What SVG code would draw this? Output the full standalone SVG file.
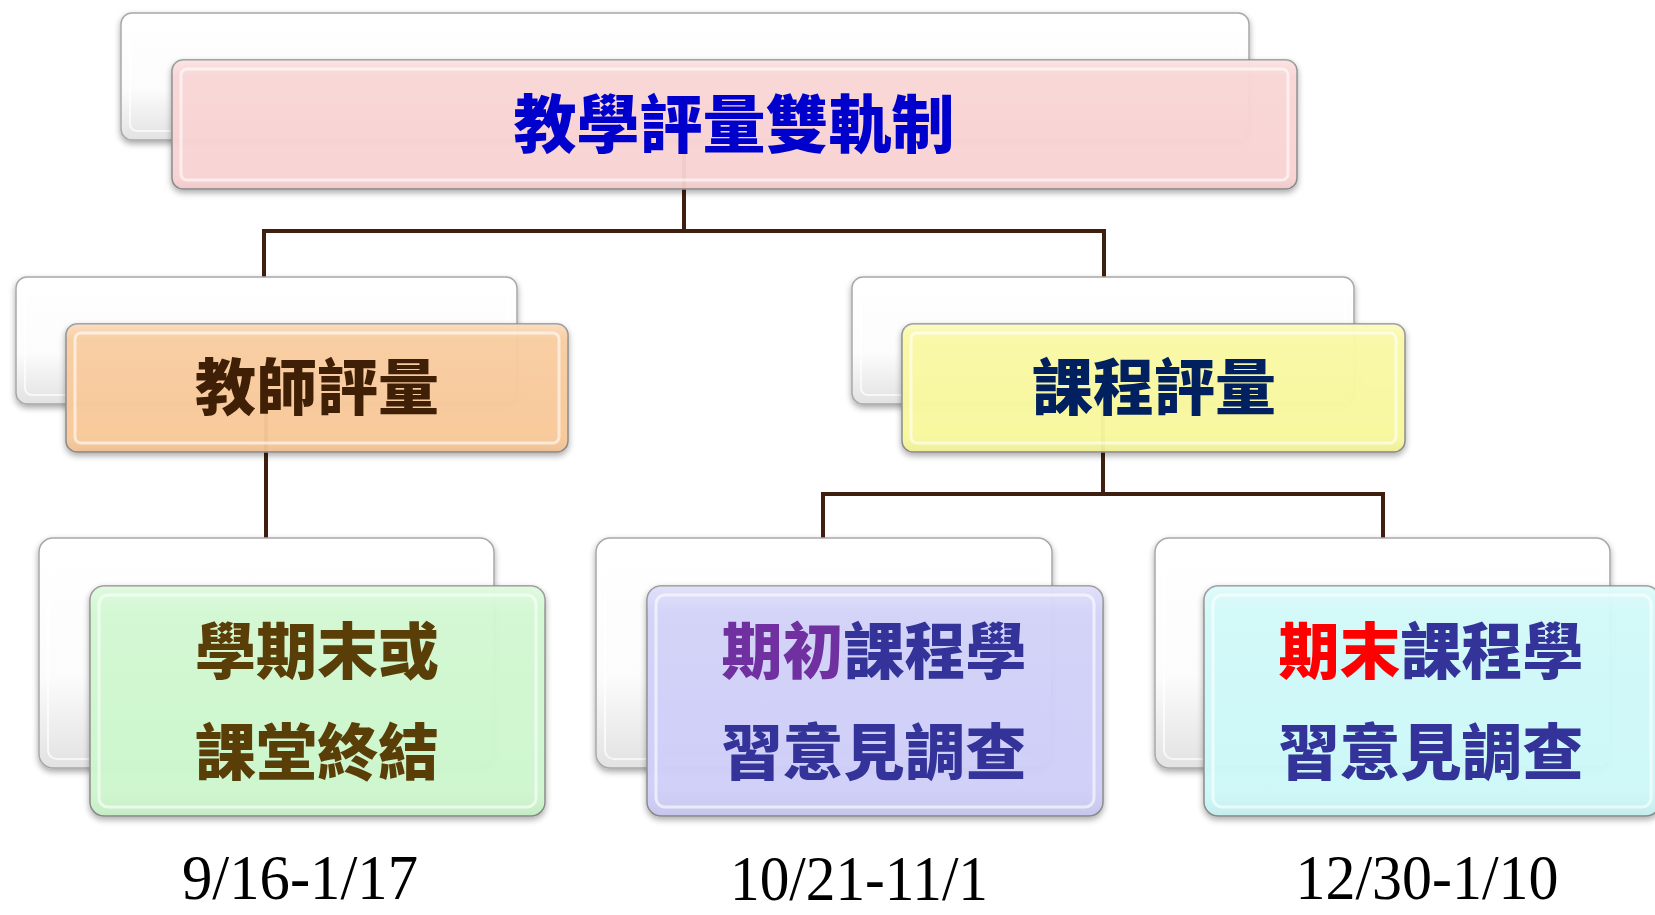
<svg xmlns="http://www.w3.org/2000/svg" width="1655" height="915" viewBox="0 0 1655 915">
<defs>
<filter id="sh" x="-5%" y="-10%" width="110%" height="125%">
<feDropShadow dx="0" dy="3" stdDeviation="3" flood-color="#000" flood-opacity="0.35"/>
</filter>
<linearGradient id="gloss" x1="0" y1="0" x2="0" y2="1">
<stop offset="0" stop-color="#fff" stop-opacity="0.35"/>
<stop offset="0.12" stop-color="#fff" stop-opacity="0.08"/>
<stop offset="0.85" stop-color="#fff" stop-opacity="0"/>
<stop offset="1" stop-color="#000" stop-opacity="0.05"/>
</linearGradient>
<linearGradient id="whiteG" x1="0" y1="0" x2="0" y2="1">
<stop offset="0" stop-color="#ffffff"/>
<stop offset="0.6" stop-color="#fcfcfc"/>
<stop offset="1" stop-color="#e2e2e2"/>
</linearGradient>
</defs>
<style>
.back{fill:url(#whiteG);stroke:#a8a8a8;stroke-width:1.5;filter:url(#sh)}
.box{stroke:#8c8c8c;stroke-width:1.5;filter:url(#sh)}
.gl{fill:url(#gloss);stroke:none}
.rim{fill:none;stroke:#fff;stroke-opacity:0.6;stroke-width:3}
.rimb{fill:none;stroke:#fff;stroke-opacity:0.7;stroke-width:2}
.conn{fill:none;stroke:#3f1f0f;stroke-width:4}
.cjk{font-family:"Noto Sans CJK TC","Noto Sans CJK SC",sans-serif;font-weight:900;text-anchor:middle}
.date{font-family:"Liberation Serif",serif;font-size:64px;fill:#000;text-anchor:middle}
</style>

<g id="connectors">
<path class="conn" d="M684 130 V231 M264 231 H1104 M264 229 V300 M1104 229 V300"/>
<path class="conn" d="M266 400 V560"/>
<path class="conn" d="M1103 400 V494 M823 494 H1383 M823 492 V560 M1383 492 V560"/>
</g>

<g id="node-root">
<rect class="back" x="121" y="13" width="1128" height="127" rx="11"/>
<rect class="rimb" x="130" y="22" width="1110" height="109" rx="7"/>
<rect class="box" x="172" y="60" width="1125" height="129" rx="11" fill="#fbd4d4" fill-opacity="0.95"/>
<rect class="gl" x="172" y="60" width="1125" height="129" rx="11"/>
<rect class="rim" x="181" y="69" width="1107" height="111" rx="6"/>
<text class="cjk" x="734" y="147" font-size="63" fill="#0000cc">教學評量雙軌制</text>
</g>

<g id="node-teacher">
<rect class="back" x="16" y="277" width="501" height="127" rx="11"/>
<rect class="rimb" x="25" y="286" width="483" height="109" rx="7"/>
<rect class="box" x="66" y="324" width="502" height="128" rx="11" fill="#fac99a" fill-opacity="0.95"/>
<rect class="gl" x="66" y="324" width="502" height="128" rx="11"/>
<rect class="rim" x="75" y="333" width="484" height="110" rx="6"/>
<text class="cjk" x="317" y="410" font-size="61" fill="#3f1f05">教師評量</text>
</g>

<g id="node-course">
<rect class="back" x="852" y="277" width="502" height="127" rx="11"/>
<rect class="rimb" x="861" y="286" width="484" height="109" rx="7"/>
<rect class="box" x="902" y="324" width="503" height="128" rx="11" fill="#fafa9e" fill-opacity="0.95"/>
<rect class="gl" x="902" y="324" width="503" height="128" rx="11"/>
<rect class="rim" x="911" y="333" width="485" height="110" rx="6"/>
<text class="cjk" x="1154" y="410" font-size="61" fill="#002060">課程評量</text>
</g>

<g id="node-semester-end">
<rect class="back" x="39" y="538" width="455" height="230" rx="14"/>
<rect class="rimb" x="48" y="547" width="437" height="212" rx="9"/>
<rect class="box" x="90" y="586" width="455" height="230" rx="14" fill="#cff9cf" fill-opacity="0.95"/>
<rect class="gl" x="90" y="586" width="455" height="230" rx="14"/>
<rect class="rim" x="99" y="595" width="437" height="212" rx="9"/>
<text class="cjk" font-size="61" fill="#5a3e08"><tspan x="317" y="674">學期末或</tspan><tspan x="317" y="775">課堂終結</tspan></text>
</g>

<g id="node-early-survey">
<rect class="back" x="596" y="538" width="456" height="230" rx="14"/>
<rect class="rimb" x="605" y="547" width="438" height="212" rx="9"/>
<rect class="box" x="647" y="586" width="456" height="230" rx="14" fill="#d0d0fa" fill-opacity="0.95"/>
<rect class="gl" x="647" y="586" width="456" height="230" rx="14"/>
<rect class="rim" x="656" y="595" width="438" height="212" rx="9"/>
<text class="cjk" font-size="61" fill="#333399"><tspan x="874" y="674"><tspan fill="#7030a0">期初</tspan>課程學</tspan><tspan x="874" y="775">習意見調查</tspan></text>
</g>

<g id="node-final-survey">
<rect class="back" x="1155" y="538" width="455" height="230" rx="14"/>
<rect class="rimb" x="1164" y="547" width="437" height="212" rx="9"/>
<rect class="box" x="1204" y="586" width="456" height="230" rx="14" fill="#cffafa" fill-opacity="0.95"/>
<rect class="gl" x="1204" y="586" width="456" height="230" rx="14"/>
<rect class="rim" x="1213" y="595" width="438" height="212" rx="9"/>
<text class="cjk" font-size="61" fill="#333399"><tspan x="1431" y="674"><tspan fill="#ff0000">期末</tspan>課程學</tspan><tspan x="1431" y="775">習意見調查</tspan></text>
</g>

<g id="dates">
<text class="date" x="300" y="899" textLength="236" lengthAdjust="spacingAndGlyphs">9/16-1/17</text>
<text class="date" x="859" y="900" textLength="258" lengthAdjust="spacingAndGlyphs">10/21-11/1</text>
<text class="date" x="1427" y="899" textLength="263" lengthAdjust="spacingAndGlyphs">12/30-1/10</text>
</g>
</svg>
